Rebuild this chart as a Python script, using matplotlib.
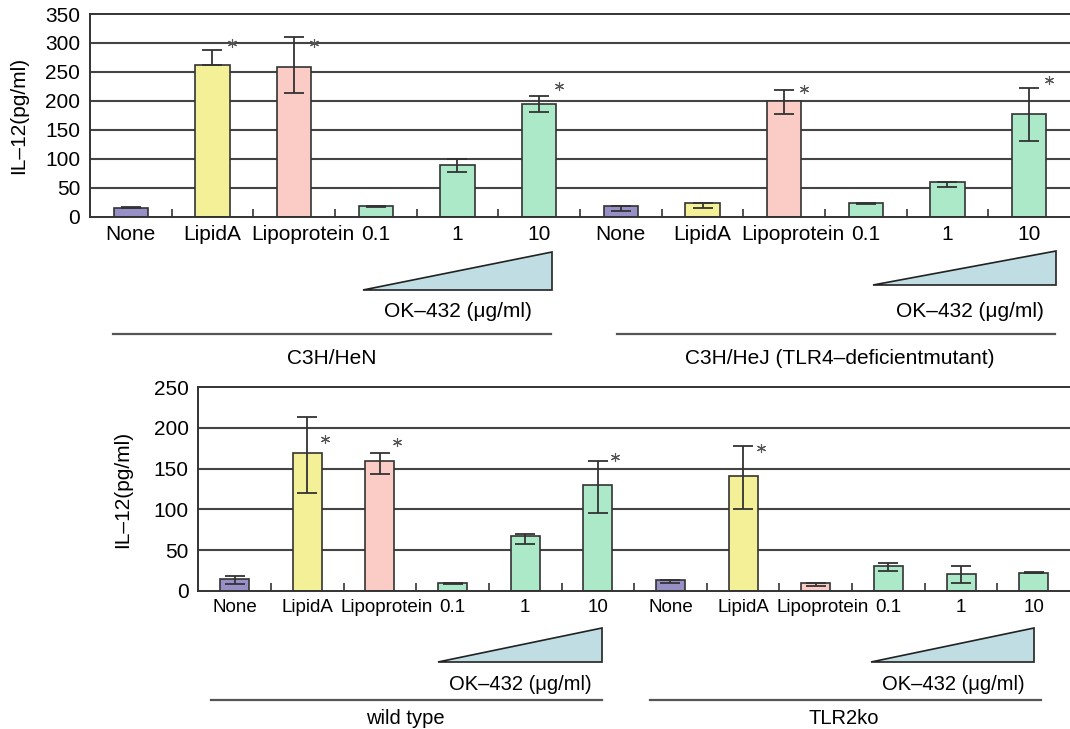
import numpy as np
import matplotlib
matplotlib.use("Agg")
import matplotlib.pyplot as plt
import matplotlib.transforms as mtransforms
from matplotlib.patches import Polygon

plt.rcParams["font.family"] = ["Liberation Sans", "DejaVu Sans"]

# ---- data ----
labels = ["None", "LipidA", "Lipoprotein", "0.1", "1", "10",
          "None", "LipidA", "Lipoprotein", "0.1", "1", "10"]
groups = ["none", "lipida", "lipo", "ok", "ok", "ok",
          "none", "lipida", "lipo", "ok", "ok", "ok"]

# top: C3H/HeN | C3H/HeJ
top_vals = [15, 262, 259, 18, 90, 194, 18, 23, 199, 23, 60, 178]
top_lo = [0, 0, 46, 1, 13, 14, 8, 8, 22, 1, 9, 47]
top_hi = [1.5, 25, 52, 0, 9, 14, 0, 0, 20, 0, 0, 45]
top_star_idx = [1, 2, 5, 8, 11]
top_star_y = [300, 300, 226, 220, 236]

# bottom: wild type | TLR2ko
bot_vals = [14, 169, 160, 10, 67, 130, 13, 141, 10, 30, 21, 22]
bot_lo = [6, 49, 17, 2, 10, 34, 3, 41, 4, 6, 12, 0]
bot_hi = [4, 45, 9, 0, 3, 30, 0, 37, 0, 4, 9, 1]
bot_star_idx = [1, 2, 5, 7]
bot_star_y = [187, 183, 164, 175]

colors = {"none": "#9790C6", "lipida": "#F4F097", "lipo": "#FBCBC6", "ok": "#ACE9C8"}
edge = "#333333"

W, H = 1070, 729
fig = plt.figure(figsize=(W / 100, H / 100), dpi=100)


def draw_panel(rect, vals, lo, hi, star_idx, star_y, ymax, bw, lab_size, lipo_shift):
    ax = fig.add_axes(rect)
    x = np.arange(len(vals))
    ax.bar(x, vals, width=bw, color=[colors[g] for g in groups],
           edgecolor=edge, linewidth=1.2, zorder=2)
    ax.errorbar(x, vals, yerr=[lo, hi], fmt="none", ecolor=edge,
                elinewidth=1.3, capsize=7, capthick=1.3, zorder=3)
    ax.plot(x[star_idx] + 0.24, star_y, ls="none", marker=(6, 2, 0),
            ms=6.5, mew=0.8, color="#555555", zorder=4)
    ax.set_xlim(-0.5, len(vals) - 0.5)
    ax.set_ylim(0, ymax)
    ax.set_yticks(np.arange(0, ymax + 1, 50))
    for yv in np.arange(50, ymax, 50):
        ax.axhline(yv, color="#444444", lw=1.5, zorder=1)

    # category labels (Lipoprotein nudged right as in the original)
    ax.set_xticks([])
    ax.set_xticks(np.arange(0.5, len(vals) - 1, 1), minor=True)
    ax.tick_params(axis="x", which="minor", direction="in", length=6,
                   width=1.2, color=edge)
    base = ax.get_xaxis_transform()
    for i, lab in enumerate(labels):
        dx = lipo_shift if lab == "Lipoprotein" else 0
        tr = base + mtransforms.ScaledTranslation(dx / 72, -6 / 72, fig.dpi_scale_trans)
        ax.text(i, 0, lab, transform=tr, ha="center", va="top", fontsize=lab_size)

    ax.tick_params(axis="y", length=0, pad=7, labelsize=15)
    for s in ["left", "bottom", "top"]:
        ax.spines[s].set_color(edge)
        ax.spines[s].set_linewidth(1.4)
    ax.spines["right"].set_visible(False)
    ax.set_ylabel("IL\u201312(pg/ml)", fontsize=15)
    return ax


ax1 = draw_panel([90 / W, 1 - 216.7 / H, 1 - 90 / W, 202.7 / H],
                 top_vals, top_lo, top_hi, top_star_idx, top_star_y, 350, 0.42, 15, 6)
ax1.yaxis.set_label_coords(-0.063, 0.5)

ax2 = draw_panel([198.3 / W, 1 - 590.7 / H, 1 - 198.3 / W, 203.4 / H],
                 bot_vals, bot_lo, bot_hi, bot_star_idx, bot_star_y, 250, 0.40, 13.5, 5)
ax2.yaxis.set_label_coords(-0.076, 0.5)

# ---- annotations under the axes (pixel coordinates) ----
ov = fig.add_axes([0, 0, 1, 1], zorder=-1)
ov.set_xlim(0, W)
ov.set_ylim(H, 0)
ov.axis("off")

tri_color = "#BFDDE3"
# (tip x, right x, base y, top y)
triangles = [(363, 552, 290, 252), (873, 1056, 285, 251),
             (438, 602, 662, 628), (871, 1034, 662, 628)]
for tx, rx, by, ty in triangles:
    ov.add_patch(Polygon([(tx, by), (rx, by), (rx, ty)], closed=True,
                         facecolor=tri_color, edgecolor="#222222", lw=1.2))

ok_text = "OK\u2013432 (\u03bcg/ml)"
ov.text(458, 311, ok_text, ha="center", va="center", fontsize=15)
ov.text(970, 311, ok_text, ha="center", va="center", fontsize=15)
ov.text(520, 685, ok_text, ha="center", va="center", fontsize=14.5)
ov.text(953, 685, ok_text, ha="center", va="center", fontsize=14.5)

for x0, x1, yy in [(113, 551, 334), (617, 1055, 334), (211, 602, 700), (650, 1041, 700)]:
    ov.plot([x0, x1], [yy, yy], color="#555555", lw=1.6)

ov.text(332, 358, "C3H/HeN", ha="center", va="center", fontsize=15)
ov.text(840, 358, "C3H/HeJ (TLR4\u2013deficientmutant)", ha="center", va="center", fontsize=15)
ov.text(405, 719, "wild type", ha="center", va="center", fontsize=14.5)
ov.text(844, 719, "TLR2ko", ha="center", va="center", fontsize=14.5)

fig.savefig("out.png", dpi=100)
